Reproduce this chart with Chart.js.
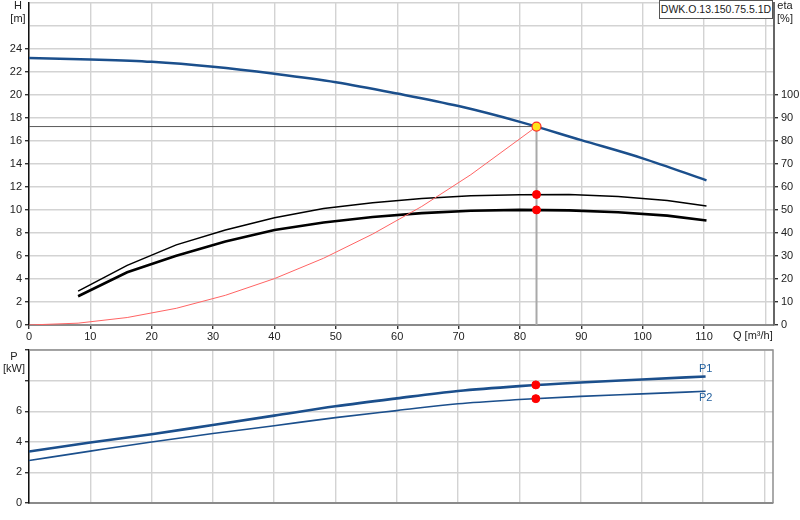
<!DOCTYPE html>
<html>
<head>
<meta charset="utf-8">
<title>DWK.O.13.150.75.5.1D</title>
<script src="https://cdn.jsdelivr.net/npm/chart.js@4.4.1/dist/chart.umd.min.js"></script>
<style>
    html, body { margin: 0; padding: 0; background: #fff; }
    body {
        width: 800px; height: 520px; position: relative; overflow: hidden;
        font-family: "Liberation Sans", Arial, sans-serif; font-size: 11px; color: #222;
    }
    #head-wrap { position: absolute; left: 0; top: -3px; width: 800px; height: 348px; }
    #power-wrap { position: absolute; left: 0; top: 345px; width: 800px; height: 175px; }
    .lbl { position: absolute; line-height: 12px; white-space: nowrap; text-align: center; }
    .blue { color: #23609e; }
    #type-box {
        position: absolute; left: 659px; top: 0; width: 112px; height: 17px;
        border: 1px solid #555; background: #fff; line-height: 17px; text-align: center;
        font-size: 10.5px; white-space: nowrap;
    }
</style>
</head>
<body>
<div id="head-wrap"><canvas id="head-chart" width="800" height="348"></canvas></div>
<div id="power-wrap"><canvas id="power-chart" width="800" height="175"></canvas></div>

<div class="lbl" style="left:8px; top:-1px; width:20px;">H</div>
<div class="lbl" style="left:8px; top:12px; width:20px;">[m]</div>
<div class="lbl" style="left:775px; top:-1px; width:20px;">eta</div>
<div class="lbl" style="left:775px; top:12px; width:20px;">[%]</div>
<div class="lbl" style="left:733px; top:329px;">Q [m³/h]</div>
<div class="lbl" style="left:4px; top:350px; width:20px;">P</div>
<div class="lbl" style="left:2px; top:362px; width:24px;">[kW]</div>
<div class="lbl blue" style="left:699px; top:362px;">P1</div>
<div class="lbl blue" style="left:699px; top:391px;">P2</div>
<div id="type-box">DWK.O.13.150.75.5.1D</div>

<script>
// ===== DATA =====
const qHead = [0, 10, 20, 30, 40, 50, 60, 70, 80, 90, 100, 110.4];
const head = [23.2, 23.07, 22.86, 22.43, 21.82, 21.09, 20.11, 19.02, 17.65, 16.06, 14.48, 12.56];

const qEta = [8, 16, 24, 32, 40, 48, 56, 64, 72, 80, 88, 96, 104, 110.4];
const etaUpper = [14.7, 25.9, 34.8, 41.3, 46.6, 50.6, 53.1, 54.9, 56.1, 56.6, 56.7, 55.8, 54.1, 51.7];
const etaLower = [12.5, 22.9, 30.1, 36.3, 41.3, 44.5, 46.9, 48.6, 49.6, 50.0, 49.8, 49.0, 47.5, 45.4];

const qSystem = [0, 8, 16, 24, 32, 40, 48, 56, 64, 72, 82.7];
const hSystem = [0, 0.16, 0.65, 1.45, 2.58, 4.03, 5.8, 7.9, 10.3, 13.06, 17.24];

const qPower = [0, 10, 20, 30, 40, 50, 60, 70, 80, 90, 100, 110.4];
const powerP1 = [3.37, 3.95, 4.49, 5.10, 5.71, 6.32, 6.84, 7.32, 7.64, 7.88, 8.07, 8.27];
const powerP2 = [2.78, 3.39, 3.99, 4.54, 5.05, 5.58, 6.04, 6.49, 6.76, 6.97, 7.13, 7.30];

const dutyQ = 82.7;
const dutyH = 17.24;
const dutyEta = [56.7, 50.0];
const dutyP = [7.72, 6.82];

const qTickLabels = [0, 10, 20, 30, 40, 50, 60, 70, 80, 90, 100, 110];
const hTickLabels = [0, 2, 4, 6, 8, 10, 12, 14, 16, 18, 20, 22, 24];
const etaTickLabels = [0, 10, 20, 30, 40, 50, 60, 70, 80, 90, 100];
const pTickLabels = [0, 2, 4, 6];

document.addEventListener('DOMContentLoaded', function() {
    "use strict";

    // ===== SHARED STYLE =====
    const tickFont = { family: '"Liberation Sans", Arial, sans-serif', size: 11 };
    const GRID_COLOR = '#d3d3d3';
    const TICK_COLOR = '#333';
    const Q_MAX = 121.4;

    /**
     * Zip two arrays into {x, y} points
     */
    function points(xs, ys) {
        return xs.map((x, i) => ({ x: x, y: ys[i] }));
    }

    /**
     * Tick callback that only prints values found in the given list
     */
    function labelsFrom(list) {
        return function(value) {
            return list.includes(value) ? String(value) : '';
        };
    }

    /**
     * Grid options; tick marks only where a label is printed (or everywhere)
     */
    function grid(list) {
        return {
            color: GRID_COLOR,
            lineWidth: 1.4,
            tickLength: 4,
            tickColor: function(ctx) {
                if (!list || !ctx.tick) return TICK_COLOR;
                return list.includes(ctx.tick.value) ? TICK_COLOR : 'rgba(0,0,0,0)';
            }
        };
    }

    /**
     * Fix the axis thickness and drop the half-label padding chart.js adds
     */
    function fixedSize(prop, size) {
        return function(scale) {
            scale[prop] = size;
            scale.paddingTop = 0;
            scale.paddingBottom = 0;
            scale.paddingLeft = 0;
            scale.paddingRight = 0;
        };
    }

    // draws grey top/right frame of the power plot
    const framePlugin = {
        id: 'frame',
        afterDraw(chart) {
            const a = chart.chartArea;
            const ctx = chart.ctx;
            ctx.save();
            ctx.strokeStyle = '#8f8f8f';
            ctx.lineWidth = 1.5;
            ctx.beginPath();
            ctx.moveTo(a.left, a.top);
            ctx.lineTo(a.right, a.top);
            ctx.lineTo(a.right, a.bottom);
            ctx.stroke();
            ctx.restore();
        }
    };

    Chart.defaults.font = tickFont;
    Chart.defaults.color = '#222';

    // ===== HEAD / EFFICIENCY CHART =====
    // note: chart.js paints the first dataset on top, so markers come first
    new Chart(document.getElementById('head-chart'), {
        type: 'line',
        data: {
            datasets: [
                {
                    data: points([dutyQ], [dutyH]),
                    showLine: false, pointRadius: 4.5, pointBackgroundColor: '#ffe31a',
                    pointBorderColor: '#ff2a2a', pointBorderWidth: 1.2, yAxisID: 'h'
                },
                {
                    data: points([dutyQ, dutyQ], dutyEta),
                    showLine: false, pointRadius: 4, pointBackgroundColor: '#ff0000',
                    pointBorderColor: '#ff0000', yAxisID: 'eta'
                },
                {
                    data: points(qHead, head),
                    borderColor: '#1b4f8c', borderWidth: 2.5, pointRadius: 0,
                    cubicInterpolationMode: 'monotone', yAxisID: 'h'
                },
                {
                    data: points(qSystem, hSystem),
                    borderColor: '#ff6464', borderWidth: 1, pointRadius: 0, tension: 0, yAxisID: 'h'
                },
                {
                    data: points(qEta, etaUpper),
                    borderColor: '#000', borderWidth: 1.5, pointRadius: 0, tension: 0, yAxisID: 'eta'
                },
                {
                    data: points(qEta, etaLower),
                    borderColor: '#000', borderWidth: 2.6, pointRadius: 0, tension: 0, yAxisID: 'eta'
                },
                {
                    data: points([0, dutyQ], [dutyH, dutyH]),
                    borderColor: '#5a5a5a', borderWidth: 1, pointRadius: 0, yAxisID: 'h'
                },
                {
                    data: points([dutyQ, dutyQ], [dutyH, 0]),
                    borderColor: '#a9a9a9', borderWidth: 2, pointRadius: 0, yAxisID: 'h'
                }
            ]
        },
        options: {
            responsive: false,
            animation: false,
            layout: { padding: 0 },
            plugins: { legend: { display: false }, tooltip: { enabled: false } },
            scales: {
                x: {
                    type: 'linear', min: 0, max: Q_MAX,
                    ticks: {
                        stepSize: 10, includeBounds: false, autoSkip: false,
                        maxRotation: 0, padding: 1, callback: labelsFrom(qTickLabels)
                    },
                    grid: grid(qTickLabels),
                    border: { color: '#8a8a8a', width: 2 },
                    afterFit: fixedSize('height', 20)
                },
                h: {
                    type: 'linear', position: 'left', min: 0, max: 28,
                    ticks: { stepSize: 2, padding: 3, callback: labelsFrom(hTickLabels) },
                    grid: grid(hTickLabels),
                    border: { color: '#111', width: 1.5 },
                    afterFit: fixedSize('width', 29)
                },
                eta: {
                    type: 'linear', position: 'right', min: 0, max: 140,
                    ticks: { stepSize: 10, padding: 3, callback: labelsFrom(etaTickLabels) },
                    grid: Object.assign(grid(etaTickLabels), { drawOnChartArea: false }),
                    border: { color: '#666', width: 2 },
                    afterFit: fixedSize('width', 26)
                }
            }
        }
    });

    // ===== POWER CHART =====
    new Chart(document.getElementById('power-chart'), {
        type: 'line',
        data: {
            datasets: [
                {
                    data: points([dutyQ, dutyQ], dutyP),
                    showLine: false, pointRadius: 4, pointBackgroundColor: '#ff0000',
                    pointBorderColor: '#ff0000', yAxisID: 'p'
                },
                {
                    data: points(qPower, powerP1),
                    borderColor: '#1b4f8c', borderWidth: 2.6, pointRadius: 0,
                    cubicInterpolationMode: 'monotone', yAxisID: 'p'
                },
                {
                    data: points(qPower, powerP2),
                    borderColor: '#1b4f8c', borderWidth: 1.6, pointRadius: 0,
                    cubicInterpolationMode: 'monotone', yAxisID: 'p'
                }
            ]
        },
        options: {
            responsive: false,
            animation: false,
            layout: { padding: { top: 5, right: 27 } },
            plugins: { legend: { display: false }, tooltip: { enabled: false } },
            scales: {
                x: {
                    type: 'linear', min: 0, max: Q_MAX,
                    ticks: { display: false, stepSize: 10, includeBounds: false },
                    grid: { color: GRID_COLOR, lineWidth: 1.4, drawTicks: false },
                    border: { color: '#8a8a8a', width: 2 },
                    afterFit: fixedSize('height', 17)
                },
                p: {
                    type: 'linear', position: 'left', min: 0, max: 10,
                    ticks: { stepSize: 2, padding: 3, callback: labelsFrom(pTickLabels) },
                    grid: grid(null),
                    border: { color: '#111', width: 1.5 },
                    afterFit: fixedSize('width', 29)
                }
            }
        },
        plugins: [framePlugin]
    });
});
</script>
</body>
</html>
